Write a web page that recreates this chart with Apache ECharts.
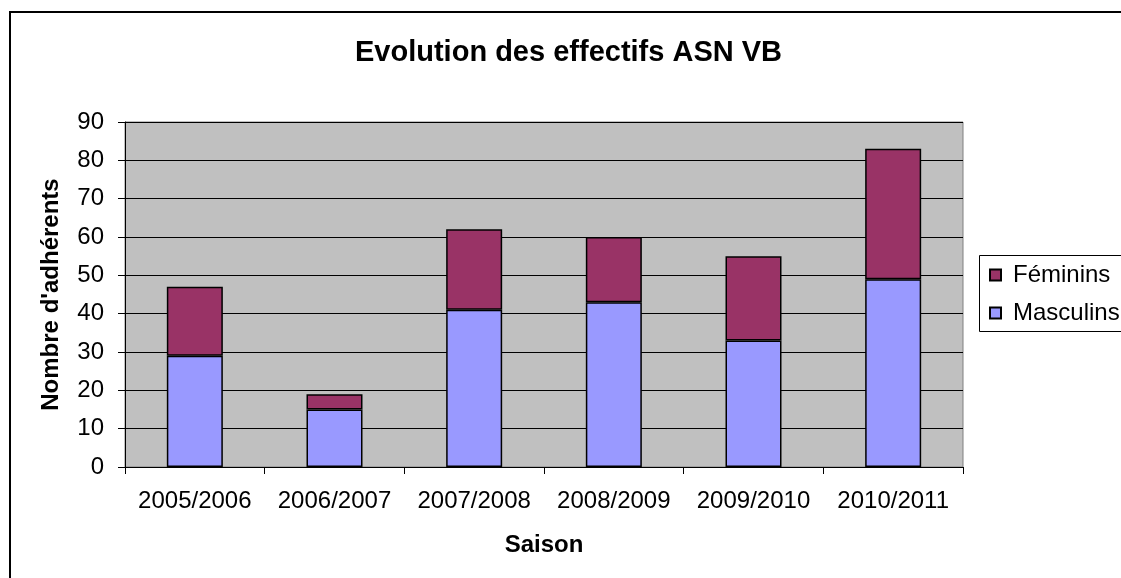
<!DOCTYPE html>
<html>
<head>
<meta charset="utf-8">
<script src="https://cdn.jsdelivr.net/npm/echarts@6/dist/echarts.min.js"></script>
<style>
html,body{margin:0;padding:0;background:#fff;}
#chart{width:1121px;height:578px;}
</style>
</head>
<body>
<div id="chart"></div>
<script>
const categories = ['2005/2006','2006/2007','2007/2008','2008/2009','2009/2010','2010/2011'];
const masculins = [29, 15, 41, 43, 33, 49];
const feminins = [18, 4, 21, 17, 22, 34];
const yTicks = [0, 90, 10];
const titleText = 'Evolution des effectifs ASN VB';
const yName = "Nombre d'adhérents";
const xName = 'Saison';

const FONT = '"Liberation Sans", Arial, sans-serif';
const chart = echarts.init(document.getElementById('chart'), null, {renderer: 'canvas'});
chart.setOption({
  backgroundColor: '#ffffff',
  animation: false,
  textStyle: {fontFamily: FONT},
  title: {
    text: titleText,
    left: 355, top: 38, padding: 0,
    textStyle: {fontFamily: FONT, fontSize: 29, fontWeight: 'bold', color: '#000'}
  },
  graphic: [{
    type: 'rect', silent: true,
    shape: {x: 10, y: 12, width: 1200, height: 700},
    style: {fill: 'none', stroke: '#000', lineWidth: 2}
  }, {
    type: 'rect', silent: true, z: 10,
    shape: {x: 979.5, y: 255.5, width: 200, height: 76},
    style: {fill: 'none', stroke: '#000', lineWidth: 1}
  }],
  legend: {
    orient: 'vertical', left: 979, top: 255,
    padding: [8, 10, 8, 10],
    itemGap: 14, itemWidth: 11, itemHeight: 11,
    borderWidth: 0,
    icon: 'rect',
    data: ['Féminins', 'Masculins'],
    textStyle: {fontFamily: FONT, fontSize: 24, color: '#000', padding: [0, 0, 0, 7]}
  },
  grid: {
    left: 125, right: 158, top: 122, bottom: 111,
    show: true, backgroundColor: '#C0C0C0', borderColor: '#808080', borderWidth: 1,
    containLabel: false
  },
  xAxis: {
    type: 'category', data: categories,
    name: xName, nameLocation: 'middle', nameGap: 66,
    nameTextStyle: {fontFamily: FONT, fontSize: 24, fontWeight: 'bold', color: '#000'},
    axisLine: {lineStyle: {color: '#000', width: 1}},
    axisTick: {show: true, length: 7, lineStyle: {color: '#000'}},
    axisLabel: {fontFamily: FONT, fontSize: 24, color: '#000', margin: 22, interval: 0},
    splitLine: {show: false}
  },
  yAxis: {
    type: 'value', min: yTicks[0], max: yTicks[1], interval: yTicks[2],
    name: yName, nameLocation: 'middle', nameGap: 62, nameRotate: 90,
    nameTextStyle: {fontFamily: FONT, fontSize: 24, fontWeight: 'bold', color: '#000'},
    axisLine: {show: true, lineStyle: {color: '#000', width: 1}},
    axisTick: {show: true, length: 7, lineStyle: {color: '#000'}},
    axisLabel: {fontFamily: FONT, fontSize: 24, color: '#000', margin: 21},
    splitLine: {show: true, lineStyle: {color: '#000', width: 1}}
  },
  series: [
    {
      name: 'Masculins', type: 'bar', stack: 'total', data: masculins,
      barWidth: 56,
      itemStyle: {color: '#9999FF', borderColor: '#000', borderWidth: 1.5}
    },
    {
      name: 'Féminins', type: 'bar', stack: 'total', data: feminins,
      barWidth: 56,
      itemStyle: {color: '#993366', borderColor: '#000', borderWidth: 1.5}
    }
  ]
});
</script>
</body>
</html>
